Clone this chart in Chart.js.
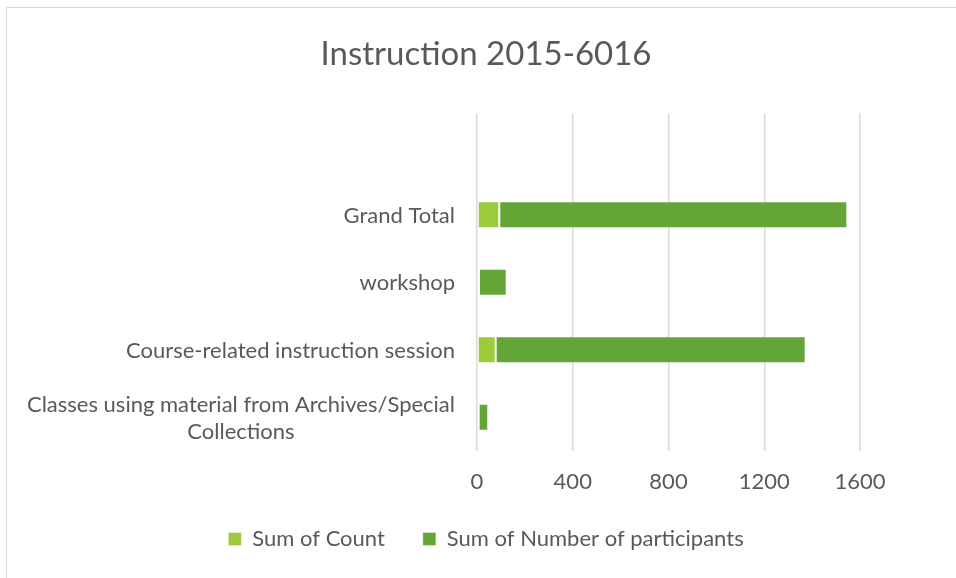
<!DOCTYPE html>
<html>
<head>
<meta charset="utf-8">
<script src="https://cdn.jsdelivr.net/npm/chart.js@4.4.0/dist/chart.umd.min.js"></script>
<style>
  html, body { margin: 0; padding: 0; background: #fff; }
  #wrap { position: relative; width: 956px; height: 578px; overflow: hidden; }
  #frame { position: absolute; left: 6px; top: 7px; width: 960px; height: 580px; border: 1px solid #d9d9d9; }
  #chart { position: absolute; left: 0; top: 0; }
</style>
</head>
<body>
<div id="wrap">
  <div id="frame"></div>
  <canvas id="chart" width="956" height="578"></canvas>
</div>
<script>
// categories, top to bottom (first slot is empty in the original)
const categories = [
  "",
  "Grand Total",
  "workshop",
  "Course-related instruction session",
  ["Classes using material from Archives/Special", "Collections"],
];
const sumOfCount = [null, 93, 8, 78, 7];
const sumOfParticipants = [null, 1454, 116, 1295, 40];
const xTicks = [0, 400, 800, 1200, 1600];

const textColor = "#595959";
const fontFamily = "Lato, 'Open Sans', sans-serif";

// draws category labels: right aligned block, lines centered inside it
const categoryLabels = {
  id: "categoryLabels",
  afterDraw(chart) {
    const ctx = chart.ctx;
    const y = chart.scales.y;
    const right = chart.scales.x.left - 22;
    ctx.save();
    ctx.font = "22px " + fontFamily;
    ctx.fillStyle = textColor;
    ctx.textBaseline = "middle";
    ctx.textAlign = "center";
    categories.forEach((label, i) => {
      const lines = Array.isArray(label) ? label : [label];
      const w = Math.max(...lines.map((l) => ctx.measureText(l).width));
      const cy = y.getPixelForTick(i);
      const lh = 27;
      lines.forEach((l, j) => {
        ctx.fillText(l, right - w / 2, cy + (j - (lines.length - 1) / 2) * lh + 1);
      });
    });
    ctx.restore();
  },
};

new Chart(document.getElementById("chart"), {
  type: "bar",
  data: {
    labels: categories,
    datasets: [
      {
        label: "Sum of Count",
        data: sumOfCount,
        backgroundColor: "#9bca3b",
        borderColor: "rgba(255,255,255,0.35)",
        borderWidth: 1,
        borderSkipped: false,
        barPercentage: 0.4,
        categoryPercentage: 1,
      },
      {
        label: "Sum of Number of participants",
        data: sumOfParticipants,
        backgroundColor: "#63a537",
        borderColor: "rgba(255,255,255,0.35)",
        borderWidth: 1,
        borderSkipped: false,
        barPercentage: 0.4,
        categoryPercentage: 1,
      },
    ],
  },
  options: {
    indexAxis: "y",
    responsive: false,
    animation: false,
    layout: { padding: { left: 112, right: 96, top: 0, bottom: 18 } },
    scales: {
      x: {
        stacked: true,
        min: 0,
        max: 1600,
        afterBuildTicks: (scale) => {
          scale.ticks = xTicks.map((v) => ({ value: v }));
        },
        afterFit: (scale) => {
          scale.height = 39;
        },
        grid: { color: "#d9d9d9", lineWidth: 1.5, drawTicks: false },
        border: { display: false },
        ticks: {
          color: textColor,
          font: { family: fontFamily, size: 22 },
          padding: 18,
          callback: (v) => String(v),
        },
      },
      y: {
        stacked: true,
        grid: { display: false },
        border: { display: false },
        ticks: { display: false },
        afterFit: (scale) => {
          scale.width = 365;
        },
      },
    },
    plugins: {
      title: {
        display: true,
        text: "Instruction 2015-6016",
        color: textColor,
        font: { family: fontFamily, size: 33, weight: "normal" },
        padding: { top: 35, bottom: 39 },
      },
      legend: {
        position: "bottom",
        labels: {
          color: textColor,
          font: { family: fontFamily, size: 22 },
          boxWidth: 13,
          boxHeight: 13,
          padding: 38,
        },
      },
      tooltip: { enabled: false },
    },
  },
  plugins: [categoryLabels],
});
</script>
</body>
</html>
